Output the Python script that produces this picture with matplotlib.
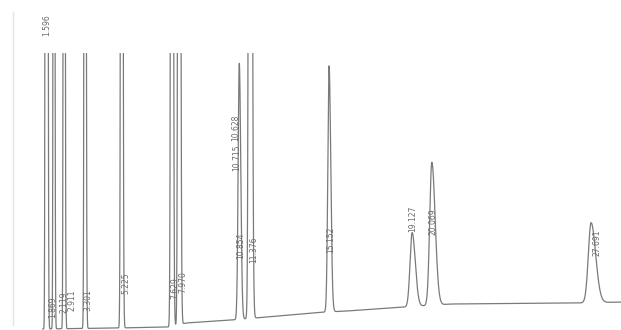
import numpy as np
import matplotlib.pyplot as plt
from matplotlib.lines import Line2D

# Peaks: retention time (min), height above baseline,
# left / right widths (min). Very tall peaks run off the top of the chart.
peak_times = [1.596, 1.66, 1.98, 2.47, 3.47, 5.225, 7.629, 7.970,
              10.854, 11.37, 15.152, 19.127, 20.069, 27.691]
peak_heights = [2000, 1500, 2000, 2000, 2000, 2000, 2000, 2000,
                256, 2000, 246, 74, 143, 80]
peak_sig_left = [0.025, 0.025, 0.025, 0.028, 0.03, 0.035, 0.04, 0.04,
                 0.055, 0.05, 0.06, 0.10, 0.10, 0.13]
peak_sig_right = [0.03, 0.03, 0.03, 0.032, 0.035, 0.04, 0.045, 0.05,
                  0.07, 0.065, 0.08, 0.15, 0.16, 0.22]

# Baseline drift (signal units)
base_t = [1.4, 5.0, 7.5, 8.3, 10.5, 11.6, 15.0, 16.0, 18.8, 21.0, 27.0, 29.2]
base_level = [1, 2, 3, 7, 10, 12, 18, 19, 23, 26, 27, 28]

# Peak labels (text, time, height), printed sideways like the integrator
label_text = ['1.596', '1.869', '2.119', '2.911', '3.301', '5.225', '7.629',
              '7.970', '10.628', '10.715', '10.854', '11.376', '15.152',
              '19.127', '20.069', '27.691']
label_t = [1.65, 1.94, 2.46, 2.85, 3.61, 5.41, 7.75, 8.16, 10.68, 10.72,
           10.91, 11.56, 15.24, 19.17, 20.13, 27.97]
label_y = [305, 23, 28, 30, 30, 47, 42, 48, 202, 172, 84, 80, 90, 111, 108, 87]

t = np.arange(1.45, 29.2, 0.002)
signal = np.interp(t, base_t, base_level)
for tr, h, sl, sr in zip(peak_times, peak_heights, peak_sig_left, peak_sig_right):
    s = np.where(t < tr, sl, sr)
    signal += h * np.exp(-0.5 * ((t - tr) / s) ** 2)

fig = plt.figure(figsize=(6.21, 3.30), dpi=100)
ax = fig.add_axes([0, 0, 1, 277 / 330])
ax.plot(t, signal, color='#7a7a7a', lw=0.9)
ax.set_xlim(-0.599, 29.124)
ax.set_ylim(0, 277)
ax.axis('off')

for txt, lt, ly in zip(label_text, label_t, label_y):
    ax.text(lt, ly, txt, rotation=90, ha='center', va='center',
            fontsize=5.5, color='#6a6a6a', clip_on=False)

# faint edge of the scanned sheet
fig.add_artist(Line2D([13 / 621, 13 / 621], [5 / 330, 318 / 330],
                      color='#e4e4e4', lw=1))

fig.savefig('out.png', dpi=100, facecolor='white')
